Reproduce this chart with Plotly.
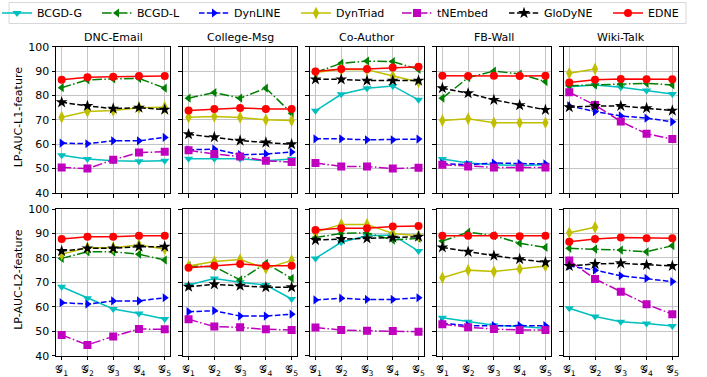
import plotly.graph_objects as go
from plotly.subplots import make_subplots

W, H = 707, 377

# ---- data -----------------------------------------------------------------
snapshots = [1, 2, 3, 4, 5]
snapshot_labels = ["𝒢<sub>1</sub>", "𝒢<sub>2</sub>", "𝒢<sub>3</sub>",
                   "𝒢<sub>4</sub>", "𝒢<sub>5</sub>"]
datasets = ["DNC-Email", "College-Msg", "Co-Author", "FB-Wall", "Wiki-Talk"]
methods = ["BCGD-G", "BCGD-L", "DynLINE", "DynTriad", "tNEmbed", "GloDyNE", "EDNE"]
row_titles = ["LP-AUC-L1-feature", "LP-AUC-L2-feature"]
y_ticks = [40, 50, 60, 70, 80, 90, 100]

# one list per dataset (DNC-Email, College-Msg, Co-Author, FB-Wall, Wiki-Talk)
bcgd_g_l1 = [[55.5, 53.9, 53.2, 53.0, 53.2], [54.0, 54.0, 54.0, 53.2, 53.9],
             [73.7, 80.5, 83.0, 83.9, 78.2], [53.9, 52.3, 51.6, 51.3, 51.6],
             [83.6, 84.3, 83.4, 82.0, 80.6]]
bcgd_l_l1 = [[83.2, 86.4, 86.8, 87.0, 83.0], [78.9, 81.2, 78.9, 83.0, 72.7],
             [89.4, 93.2, 94.1, 93.9, 90.7], [78.9, 87.3, 90.0, 88.8, 85.7],
             [84.0, 84.3, 84.7, 85.0, 84.3]]
dynline_l1 = [[60.5, 60.2, 61.4, 61.4, 62.8], [57.7, 58.0, 55.7, 56.0, 56.8],
              [62.2, 62.2, 61.8, 61.8, 62.1], [52.0, 51.6, 52.3, 52.0, 51.9],
              [75.7, 73.4, 71.6, 70.7, 69.2]]
dyntriad_l1 = [[71.1, 73.4, 73.8, 75.0, 75.2], [71.1, 71.4, 71.0, 70.0, 69.7],
               [89.4, 90.7, 90.5, 88.0, 85.5], [69.7, 70.4, 68.8, 68.8, 68.8],
               [89.1, 90.9, None, None, None]]
tnembed_l1 = [[50.5, 50.0, 53.6, 56.6, 56.9], [57.5, 56.0, 55.0, 53.2, 52.7],
              [52.3, 50.9, 50.9, 50.0, 50.4], [51.6, 50.9, 50.5, 50.5, 50.5],
              [81.3, 76.1, 69.3, 64.3, 62.1]]
glodyne_l1 = [[77.2, 75.7, 74.6, 75.0, 74.2], [64.1, 62.9, 61.5, 60.7, 60.0],
              [86.6, 86.6, 86.1, 86.1, 86.1], [83.0, 80.9, 78.2, 76.0, 74.1],
              [75.2, 75.7, 75.7, 74.8, 73.8]]
edne_l1 = [[86.4, 87.5, 87.7, 88.0, 88.0], [73.8, 74.5, 74.9, 74.5, 74.5],
           [89.8, 90.9, 90.9, 91.5, 91.8], [88.1, 88.0, 88.1, 88.0, 88.1],
           [85.3, 86.4, 86.8, 86.6, 86.6]]

bcgd_g_l2 = [[68.2, 63.5, 59.1, 57.3, 55.0], [68.9, 71.6, 70.0, 68.9, 63.2],
             [79.8, 86.4, 89.1, 89.4, 82.8], [55.5, 53.9, 52.5, 51.9, 51.2],
             [59.4, 56.0, 53.9, 53.2, 52.1]]
bcgd_l_l2 = [[79.8, 82.5, 82.5, 81.5, 79.1], [76.7, 76.4, 71.0, 77.8, 71.6],
             [88.3, 90.0, 90.3, 87.3, 88.0], [86.9, 90.5, 89.1, 86.0, 84.3],
             [83.9, 83.6, 83.2, 82.5, 85.0]]
dynline_l2 = [[61.7, 61.1, 62.4, 62.4, 63.7], [58.0, 58.4, 56.2, 56.2, 57.0],
              [62.8, 63.5, 63.0, 63.0, 63.7], [53.2, 52.3, 52.3, 52.3, 52.3],
              [76.7, 75.0, 72.7, 71.6, 70.3]]
dyntriad_l2 = [[81.5, 84.2, 84.2, 85.3, 83.6], [76.7, 78.5, 79.3, 75.7, 79.0],
               [90.5, 93.7, 93.7, 90.0, 89.1], [71.9, 75.0, 74.4, 75.5, 76.7],
               [90.3, 92.5, None, None, None]]
tnembed_l2 = [[48.5, 44.4, 47.9, 50.9, 50.8], [54.9, 51.9, 51.6, 50.8, 50.5],
              [51.5, 50.5, 50.2, 50.1, 49.8], [52.9, 51.6, 50.9, 50.5, 50.5],
              [78.9, 71.4, 66.2, 61.0, 57.0]]
glodyne_l2 = [[82.8, 83.9, 83.9, 84.6, 84.6], [68.2, 69.2, 68.6, 68.0, 68.0],
              [87.3, 87.7, 88.0, 88.3, 88.7], [84.3, 82.5, 80.9, 79.5, 78.2],
              [76.7, 77.5, 77.8, 77.1, 76.7]]
edne_l2 = [[87.7, 88.7, 88.7, 89.1, 89.1], [76.0, 76.8, 77.5, 76.8, 76.8],
           [91.4, 92.1, 92.1, 92.8, 93.0], [89.1, 89.1, 89.1, 88.9, 89.1],
           [86.6, 87.7, 88.3, 88.0, 88.0]]

results = [
    [bcgd_g_l1, bcgd_l_l1, dynline_l1, dyntriad_l1, tnembed_l1, glodyne_l1, edne_l1],
    [bcgd_g_l2, bcgd_l_l2, dynline_l2, dyntriad_l2, tnembed_l2, glodyne_l2, edne_l2],
]

# ---- styles (matplotlib-like single-letter colours) -----------------------
colors = ["#00bfbf", "#008000", "#0000ff", "#bfbf00", "#bf00bf", "#000000", "#ff0000"]
dashes = ["solid", "9.6px,2.4px,1.5px,2.4px", "5.5px,2.4px", "solid",
          "9.6px,2.4px,1.5px,2.4px", "5.5px,2.4px", "solid"]
symbols = ["triangle-down", "triangle-left", "triangle-right", "diamond-tall",
           "square", "star", "circle"]
sizes = [8, 8, 8, 9, 8, 9, 8]

FONT = "DejaVu Sans"
FS = 11

# ---- layout geometry (pixels) --------------------------------------------
left, right = 56.0, 678.0
gap_x = 12.5
pw = (right - left - 4 * gap_x) / 5
rows_px = [(46.7, 193.0), (209.0, 355.7)]
# left edge of each legend label, one legend per method laid out in a row
legend_text_x = [43, 143, 240, 342, 443, 550, 654]
legend_frame = (9, 2.5, 686, 23.5)

fig = make_subplots(rows=2, cols=5)

legend_ids = ["legend"] + [f"legend{i}" for i in range(2, len(methods) + 1)]

for r in range(2):
    for c in range(5):
        for m, name in enumerate(methods):
            fig.add_trace(go.Scatter(
                x=snapshots, y=results[r][m][c], name=name,
                mode="lines+markers",
                line=dict(color=colors[m], width=1.5, dash=dashes[m]),
                marker=dict(symbol=symbols[m], size=sizes[m], color=colors[m],
                            line=dict(width=0)),
                legend=legend_ids[m], legendgroup=name,
                showlegend=(r == 0 and c == 0),
                connectgaps=False,
            ), row=r + 1, col=c + 1)

axis_common = dict(showline=True, mirror=True, linecolor="black", linewidth=1,
                   showgrid=True, gridcolor="#c4c4c4", gridwidth=1,
                   ticks="outside", ticklen=3.5, tickwidth=0.8, tickcolor="black",
                   zeroline=False, tickfont=dict(family=FONT, size=FS, color="black"))

for r in range(2):
    y0, y1 = rows_px[r]
    for c in range(5):
        idx = r * 5 + c + 1
        x0 = left + c * (pw + gap_x)
        xa = "xaxis" if idx == 1 else f"xaxis{idx}"
        ya = "yaxis" if idx == 1 else f"yaxis{idx}"
        fig.layout[xa].update(
            domain=[x0 / W, (x0 + pw) / W], range=[0.78, 5.22],
            tickmode="array", tickvals=snapshots, ticktext=snapshot_labels,
            showticklabels=(r == 1), **axis_common)
        fig.layout[ya].update(
            domain=[1 - y1 / H, 1 - y0 / H], range=[40, 100],
            tickmode="array", tickvals=y_ticks,
            showticklabels=(c == 0), **axis_common)

annotations = []
for c, title in enumerate(datasets):
    xc = left + c * (pw + gap_x) + pw / 2
    annotations.append(dict(text=title, x=xc / W, y=1 - 37.5 / H, xref="paper",
                            yref="paper", xanchor="center", yanchor="middle",
                            showarrow=False,
                            font=dict(family=FONT, size=FS, color="black")))
for r, title in enumerate(row_titles):
    yc = (rows_px[r][0] + rows_px[r][1]) / 2 - 3
    annotations.append(dict(text=title, x=18.5 / W, y=1 - yc / H, xref="paper",
                            yref="paper", xanchor="center", yanchor="middle",
                            textangle=-90, showarrow=False,
                            font=dict(family=FONT, size=FS, color="black")))

# legend frame
fx0, fy0, fx1, fy1 = legend_frame
shapes = [dict(type="rect", xref="paper", yref="paper",
               x0=fx0 / W, x1=fx1 / W, y0=1 - fy1 / H, y1=1 - fy0 / H,
               line=dict(color="#d8d8d8", width=1), fillcolor="rgba(0,0,0,0)",
               layer="below")]

layout_legends = {}
for m, lid in enumerate(legend_ids):
    layout_legends[lid] = dict(
        orientation="h", x=(legend_text_x[m] - 46) / W, y=1 - 13 / H,
        xanchor="left", yanchor="middle", bgcolor="rgba(0,0,0,0)",
        borderwidth=0, font=dict(family=FONT, size=FS, color="black"),
        itemsizing="trace")

fig.update_layout(
    width=W, height=H,
    margin=dict(l=0, r=0, t=0, b=0, autoexpand=False),
    plot_bgcolor="white", paper_bgcolor="white",
    annotations=annotations, shapes=shapes,
    font=dict(family=FONT, size=FS, color="black"),
    **layout_legends,
)

fig.write_html("out.html")
